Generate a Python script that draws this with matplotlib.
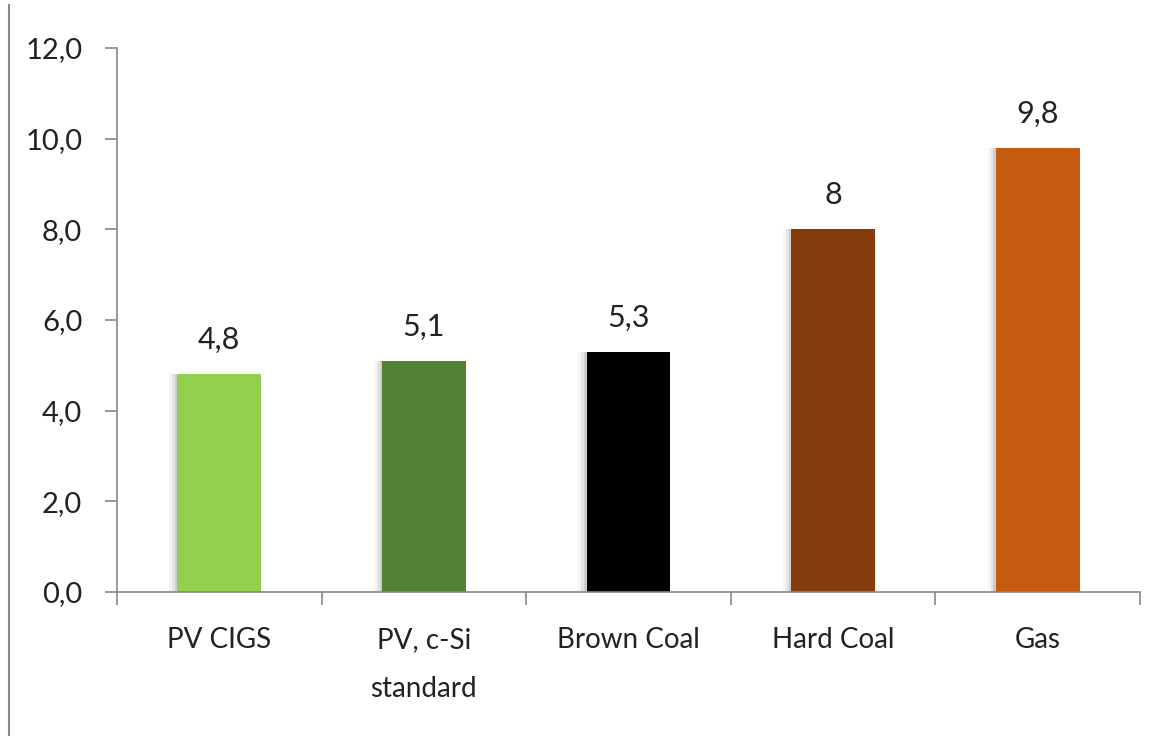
import numpy as np
import matplotlib.pyplot as plt
from matplotlib.lines import Line2D

# =====================================================
# Data
# =====================================================
categories = ["PV CIGS", "PV, c-Si\nstandard", "Brown Coal", "Hard Coal", "Gas"]
values = [4.8, 5.1, 5.3, 8.0, 9.8]
value_labels = ["4,8", "5,1", "5,3", "8", "9,8"]
bar_colors = ["#92D050", "#548235", "#000000", "#843C0C", "#C55A11"]
y_ticks = [0, 2, 4, 6, 8, 10, 12]

plt.rcParams["font.family"] = ["Lato", "DejaVu Sans"]

fig = plt.figure(figsize=(11.55, 7.36), dpi=100)
ax = fig.add_axes([117 / 1155, 1 - 592 / 736, (1140 - 117) / 1155, 544 / 736])

x = np.arange(len(categories))
width = 0.41

# soft shadow on the left of each bar
for off, a in [(0.04, 0.08), (0.025, 0.14), (0.012, 0.22)]:
    ax.bar(x - off, values, width=width, color="gray", alpha=a, zorder=1)
ax.bar(x, values, width=width, color=bar_colors, zorder=2)

for xi, v, lab in zip(x, values, value_labels):
    ax.text(xi, v + 0.45, lab, ha="center", va="bottom", fontsize=22, color="#222222")

ax.set_xlim(-0.5, len(categories) - 0.5)
ax.set_ylim(0, 12)
ax.set_yticks(y_ticks)
ax.set_yticklabels([f"{t:.1f}".replace(".", ",") for t in y_ticks], fontsize=21, color="#222222")

# category labels centred, ticks on the boundaries
ax.set_xticks(x)
ax.set_xticklabels(categories, fontsize=20, color="#222222", linespacing=2.1)
ax.tick_params(axis="x", length=0, pad=25)
ax.set_xticks(np.arange(len(categories) + 1) - 0.5, minor=True)
ax.tick_params(axis="x", which="minor", length=9, color="#888888", width=1.2)
ax.tick_params(axis="y", length=9, color="#888888", width=1.2, pad=16)

for s in ["top", "right"]:
    ax.spines[s].set_visible(False)
for s in ["left", "bottom"]:
    ax.spines[s].set_color("#888888")
    ax.spines[s].set_linewidth(1.2)

# border line on the left edge of the image
fig.add_artist(Line2D([9 / 1155, 9 / 1155], [0, 1 - 5 / 736], color="#888888", lw=1.5))

fig.savefig("out.png", dpi=100)
